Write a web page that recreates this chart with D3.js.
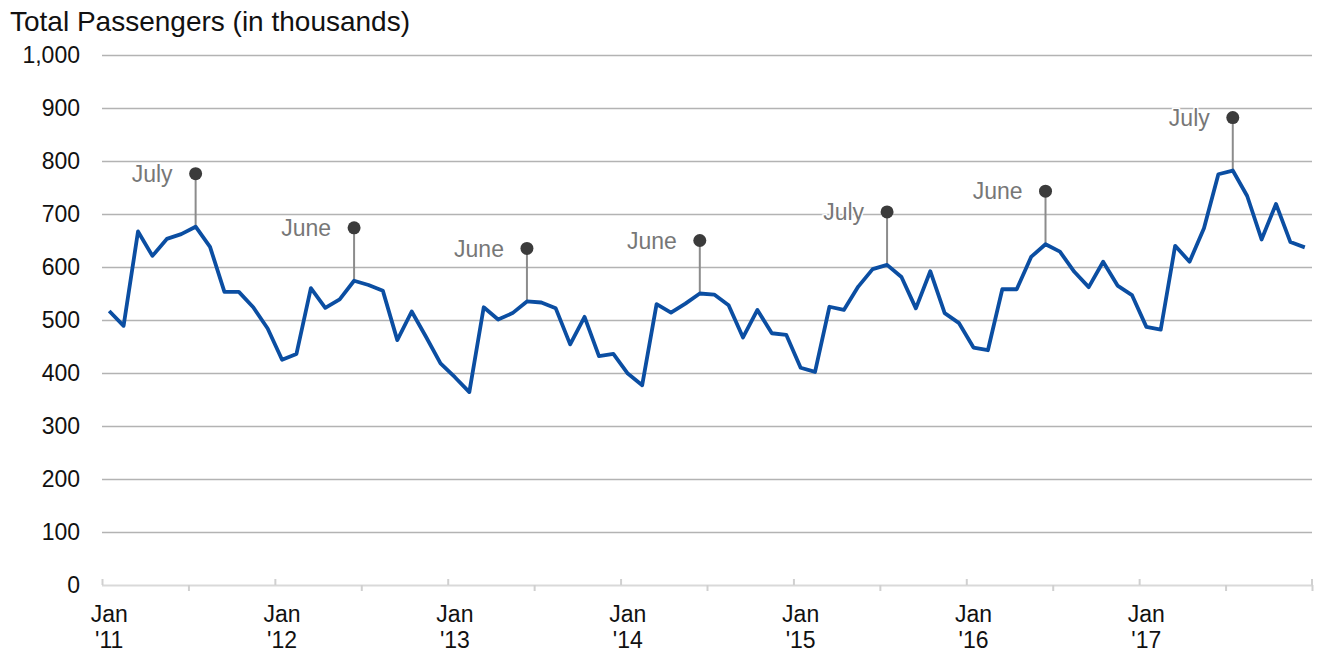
<!DOCTYPE html>
<html>
<head>
<meta charset="utf-8">
<script src="https://cdn.jsdelivr.net/npm/d3@7"></script>
<style>
  html, body { margin: 0; padding: 0; background: #fff; }
  svg { display: block; font-family: "Liberation Sans", Arial, sans-serif; }
</style>
</head>
<body>
<svg id="chart" width="1317" height="652"></svg>
<script>
// Monthly totals, Jan 2011 – Dec 2017 (thousands of passengers)
const years = ["'11", "'12", "'13", "'14", "'15", "'16", "'17"];
const passengers2011 = [517, 489, 667, 621, 653, 662, 676, 638, 553, 553, 524, 484];
const passengers2012 = [425, 436, 560, 523, 539, 574, 566, 555, 462, 516, 468, 418];
const passengers2013 = [392, 364, 524, 501, 513, 535, 533, 522, 454, 506, 432, 436];
const passengers2014 = [399, 377, 530, 514, 531, 550, 548, 528, 467, 519, 475, 472];
const passengers2015 = [410, 402, 525, 519, 563, 596, 604, 581, 522, 592, 513, 494];
const passengers2016 = [448, 443, 558, 558, 619, 643, 629, 591, 562, 610, 565, 547];
const passengers2017 = [487, 482, 640, 610, 673, 775, 782, 734, 652, 719, 647, 637];
const passengers = [].concat(passengers2011, passengers2012, passengers2013,
  passengers2014, passengers2015, passengers2016, passengers2017);

// Peak month of each year and the label shown beside it
const peakMonthIndex = [6, 17, 29, 41, 54, 65, 78];
const peakLabels = ["July", "June", "June", "June", "July", "June", "July"];
const yTicks = [0, 100, 200, 300, 400, 500, 600, 700, 800, 900, 1000];
const calloutRise = 100; // callout dot sits this far above the peak value

const svg = d3.select("#chart");
const plotLeft = 102, plotRight = 1312, plotTop = 55, plotBottom = 585;

const x = d3.scaleLinear().domain([0, passengers.length]).range([plotLeft, plotRight]);
const y = d3.scaleLinear().domain([0, 1000]).range([plotBottom, plotTop]);
const mid = i => x(i + 0.5);

// Title
svg.append("text")
  .attr("x", 10).attr("y", 31)
  .attr("font-size", 28).attr("fill", "#111")
  .text("Total Passengers (in thousands)");

// Y axis with gridlines
const yAxis = svg.append("g")
  .attr("transform", `translate(${plotLeft},0)`)
  .call(d3.axisLeft(y).tickValues(yTicks).tickSize(-(plotRight - plotLeft))
    .tickPadding(22).tickFormat(d3.format(",")));
yAxis.select(".domain").remove();
yAxis.selectAll(".tick line")
  .attr("stroke", d => d === 0 ? "#d9d9d9" : "#b3b3b3")
  .attr("stroke-width", d => d === 0 ? 2 : 1.6);
yAxis.selectAll(".tick text")
  .attr("font-size", 23).attr("fill", "#111")
  .attr("font-family", "Liberation Sans, Arial, sans-serif");

// X axis: January ticks point up, July ticks point down
const janTicks = d3.range(0, passengers.length, 12);
const julTicks = d3.range(6, passengers.length, 12);
const janAxis = svg.append("g")
  .attr("transform", `translate(0,${plotBottom})`)
  .call(d3.axisBottom(x).tickValues(janTicks).tickSize(-6).tickFormat(""));
janAxis.select(".domain").remove();
janAxis.selectAll(".tick line").attr("stroke", "#d0d0d0").attr("stroke-width", 2);
const julAxis = svg.append("g")
  .attr("transform", `translate(0,${plotBottom})`)
  .call(d3.axisBottom(x).tickValues(julTicks.concat([passengers.length])).tickSize(6).tickFormat(""));
julAxis.select(".domain").remove();
julAxis.selectAll(".tick line").attr("stroke", "#d0d0d0").attr("stroke-width", 2);
svg.append("line")
  .attr("x1", x(passengers.length)).attr("x2", x(passengers.length))
  .attr("y1", plotBottom - 6).attr("y2", plotBottom)
  .attr("stroke", "#d0d0d0").attr("stroke-width", 2);

// Year labels under each January
const yearLabels = svg.append("g").selectAll("text")
  .data(years).join("text")
  .attr("text-anchor", "middle")
  .attr("font-size", 23).attr("fill", "#111")
  .attr("transform", (d, i) => `translate(${mid(i * 12)},622)`);
yearLabels.append("tspan").attr("x", 0).attr("y", 0).text("Jan");
yearLabels.append("tspan").attr("x", 0).attr("y", 26).text(d => d);

// Callout stems (behind the line)
const callouts = peakMonthIndex.map((m, k) => ({ m, label: peakLabels[k], v: passengers[m] }));
svg.append("g").selectAll("line")
  .data(callouts).join("line")
  .attr("x1", d => mid(d.m)).attr("x2", d => mid(d.m))
  .attr("y1", d => y(d.v + calloutRise)).attr("y2", d => y(d.v))
  .attr("stroke", "#8c8c8c").attr("stroke-width", 2);

// Passenger line
svg.append("path")
  .datum(passengers)
  .attr("fill", "none")
  .attr("stroke", "#0b4ea2")
  .attr("stroke-width", 3.8)
  .attr("stroke-linejoin", "round")
  .attr("d", d3.line().x((d, i) => mid(i)).y(d => y(d)));

// Callout dots and month labels
svg.append("g").selectAll("circle")
  .data(callouts).join("circle")
  .attr("cx", d => mid(d.m)).attr("cy", d => y(d.v + calloutRise))
  .attr("r", 6.5).attr("fill", "#3b3b3b");
svg.append("g").selectAll("text")
  .data(callouts).join("text")
  .attr("x", d => mid(d.m) - 23)
  .attr("y", d => y(d.v + calloutRise) + 8.2)
  .attr("text-anchor", "end")
  .attr("font-size", 23)
  .attr("fill", "#777")
  .attr("stroke", "#fff").attr("stroke-width", 3)
  .attr("paint-order", "stroke")
  .text(d => d.label);
</script>
</body>
</html>
